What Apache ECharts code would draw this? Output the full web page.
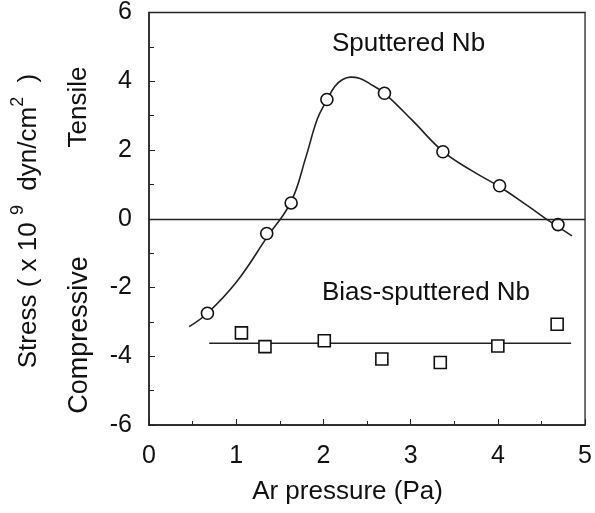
<!DOCTYPE html>
<html>
<head>
<meta charset="utf-8">
<script src="https://cdn.jsdelivr.net/npm/echarts@6.0.0/dist/echarts.min.js"></script>
<style>html,body{margin:0;padding:0;background:#fff;}#c{width:595px;height:513px;}</style>
</head>
<body>
<div id="c"></div>
<script>
// Sputtered Nb measured points (Ar pressure Pa, stress 1e9 dyn/cm2)
var sputteredX = [0.67, 1.35, 1.63, 2.04, 2.70, 3.37, 4.02, 4.69];
var sputteredY = [-2.75, -0.43, 0.46, 3.47, 3.65, 1.95, 0.96, -0.17];
// Guide curve through sputtered points
var curveX = [0.46, 0.67, 1.00, 1.35, 1.63, 1.80, 1.93, 2.04, 2.13, 2.22, 2.31, 2.42, 2.53, 2.70, 3.02, 3.37, 3.70, 4.02, 4.34, 4.54, 4.70, 4.85];
var curveY = [-3.14, -2.75, -1.85, -0.55, 0.50, 1.80, 2.90, 3.45, 3.85, 4.05, 4.12, 4.08, 3.93, 3.65, 2.86, 1.96, 1.40, 0.93, 0.38, 0.02, -0.25, -0.50];
// Bias-sputtered Nb measured points
var biasX = [1.06, 1.33, 2.01, 2.67, 3.34, 4.00, 4.68];
var biasY = [-3.32, -3.72, -3.55, -4.08, -4.18, -3.70, -3.07];
// Bias-sputtered guide line
var biasLineX = [0.69, 4.84];
var biasLineY = [-3.62, -3.62];
// Axis ticks
var xTicks = [0, 1, 2, 3, 4, 5];
var yTicks = [-6, -4, -2, 0, 2, 4, 6];

function zip(a, b) { return a.map(function (v, i) { return [v, b[i]]; }); }

var ink = '#111';
var font = '"Liberation Sans", Arial, Helvetica, sans-serif';
var chart = echarts.init(document.getElementById('c'), null, { renderer: 'canvas' });
chart.setOption({
  animation: false,
  backgroundColor: '#fff',
  grid: { left: 149, right: 3, top: 12, bottom: 88, show: true, borderColor: '#222', borderWidth: 1.3, backgroundColor: 'transparent' },
  xAxis: {
    type: 'value', min: xTicks[0], max: xTicks[xTicks.length - 1], interval: 1,
    axisLine: { show: true, onZero: false, lineStyle: { color: '#222', width: 1.5 } },
    axisTick: { show: true, inside: true, length: 6, lineStyle: { color: '#222' } },
    minorTick: { show: true, splitNumber: 2, length: 4, lineStyle: { color: '#222' } },
    splitLine: { show: false },
    axisLabel: { fontSize: 25, color: ink, margin: 19, fontFamily: font }
  },
  yAxis: {
    type: 'value', min: yTicks[0], max: yTicks[yTicks.length - 1], interval: 2,
    axisLine: { show: true, onZero: false, lineStyle: { color: '#222', width: 1.5 } },
    axisTick: { show: true, inside: true, length: 6, lineStyle: { color: '#222' } },
    minorTick: { show: true, splitNumber: 2, length: 5, lineStyle: { color: '#222' } },
    splitLine: { show: false },
    axisLabel: { fontSize: 25, color: ink, margin: 17, fontFamily: font }
  },
  series: [
    {
      type: 'line', data: zip(curveX, curveY), smooth: 0.4, showSymbol: false,
      lineStyle: { color: '#222', width: 1.6 }, z: 2,
      markLine: {
        silent: true, symbol: ['none', 'none'], label: { show: false },
        lineStyle: { color: '#222', width: 1.3, type: 'solid' },
        data: [{ yAxis: 0 }]
      }
    },
    {
      type: 'scatter', data: zip(sputteredX, sputteredY), symbol: 'circle', symbolSize: 12,
      itemStyle: { color: '#fff', borderColor: '#111', borderWidth: 1.6, opacity: 1 }, z: 4
    },
    {
      type: 'line', data: zip(biasLineX, biasLineY), showSymbol: false,
      lineStyle: { color: '#222', width: 1.6 }, z: 2
    },
    {
      type: 'scatter', data: zip(biasX, biasY), symbol: 'rect', symbolSize: 12,
      itemStyle: { color: '#fff', borderColor: '#111', borderWidth: 1.6, opacity: 1 }, z: 4
    }
  ],
  graphic: [
    { type: 'text', x: 408.5, y: 43.5, style: { text: 'Sputtered Nb', font: '26px ' + font, fill: ink, align: 'center', verticalAlign: 'middle' } },
    { type: 'text', x: 426, y: 293, style: { text: 'Bias-sputtered Nb', font: '26px ' + font, fill: ink, align: 'center', verticalAlign: 'middle' } },
    { type: 'text', x: 347.5, y: 492, style: { text: 'Ar pressure (Pa)', font: '26px ' + font, fill: ink, align: 'center', verticalAlign: 'middle' } },
    { type: 'text', x: 79, y: 107, rotation: Math.PI / 2, style: { text: 'Tensile', font: '26px ' + font, fill: ink, align: 'center', verticalAlign: 'middle' } },
    { type: 'text', x: 80, y: 335, rotation: Math.PI / 2, style: { text: 'Compressive', font: '27px ' + font, fill: ink, align: 'center', verticalAlign: 'middle' } },
    { type: 'text', x: 28, y: 221, rotation: Math.PI / 2, style: {
        text: '{m|Stress ( x 10 }{s|9}{m|  dyn/cm}{s|2}{m|  )}',
        align: 'center', verticalAlign: 'middle', fill: ink,
        rich: {
          m: { fontSize: 26, fontFamily: font, fill: ink, color: ink, verticalAlign: 'bottom', lineHeight: 28 },
          s: { fontSize: 18, fontFamily: font, fill: ink, color: ink, verticalAlign: 'bottom', lineHeight: 20, padding: [0, 0, 15, 0] }
        }
    } }
  ]
});
</script>
</body>
</html>
